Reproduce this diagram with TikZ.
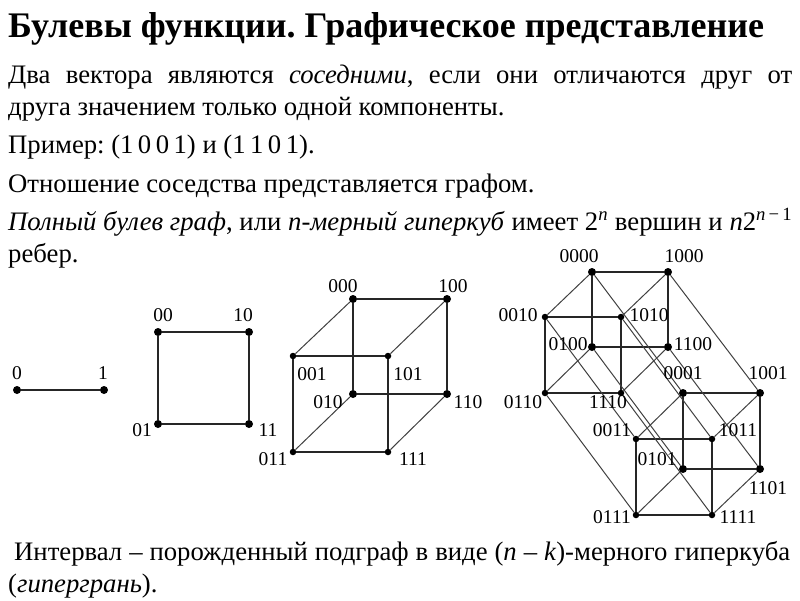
\documentclass[tikz,border=0pt]{standalone}
\usepackage{fontspec}
\setmainfont{Liberation Serif}
\frenchspacing
\tikzset{
	txt/.style={anchor=base west,inner sep=0pt,font=\fontsize{26.7}{30}\selectfont},
	ttl/.style={anchor=base west,inner sep=0pt,font=\fontsize{36}{38}\selectfont\bfseries},
	lab/.style={inner sep=0pt,font=\fontsize{19.5}{21}\selectfont},
	dot/.style={circle,fill=black,inner sep=0pt,minimum size=8pt},
	sdot/.style={circle,fill=black,inner sep=0pt,minimum size=6.5pt},
	edg/.style={line width=1.4pt,black!85},
	dia/.style={line width=1pt,black!75}
}
\begin{document}
\begin{tikzpicture}[x=1pt,y=-1pt]
	
	\useasboundingbox (0,0) rectangle (800,600);
	
	% title and text
	\node[ttl] (title) at (8,37) {Булевы функции. Графическое представление};
	\node[txt] (line1) at (8,83) {\makebox[784pt][s]{Два вектора являются \textit{соседними}, если они отличаются друг от}};
	\node[txt] (line2) at (8,115) {друга значением только одной компоненты.};
	\node[txt] (line3) at (8,153) {Пример: (1\,0\,0\,1) и (1\,1\,0\,1).};
	\node[txt] (line4) at (8,192) {Отношение соседства представляется графом.};
	\node[txt] (line5) at (8,230) {\makebox[784pt][s]{\textit{Полный булев граф}, или \textit{n-мерный гиперкуб} имеет 2\textsuperscript{\textit{n}} вершин и \textit{n}2\textsuperscript{\textit{n}\,−\,1}}};
	\node[txt] (line6) at (8,262) {ребер.};
	\node[txt] (line7) at (14,560) {\makebox[776pt][s]{Интервал – порожденный подграф в виде (\textit{n} – \textit{k})-мерного гиперкуба}};
	\node[txt] (line8) at (8,592) {(\textit{гипергрань}).};
	
	% segment
	\node[dot] (a0) at (17,390) {};
	\node[dot] (a1) at (104,390) {};
	\draw[edg] (a0) -- (a1);
	\node[lab] (la0) at (17,373) {0};
	\node[lab] (la1) at (103,373) {1};
	
	% square
	\node[dot] (b00) at (158,332) {};
	\node[dot] (b10) at (249,332) {};
	\node[dot] (b01) at (158,424) {};
	\node[dot] (b11) at (249,424) {};
	\draw[edg] (b00) -- (b10);
	\draw[edg] (b10) -- (b11);
	\draw[edg] (b11) -- (b01);
	\draw[edg] (b01) -- (b00);
	\node[lab] (lb00) at (163,315) {00};
	\node[lab] (lb10) at (243,315) {10};
	\node[lab] (lb01) at (142,430) {01};
	\node[lab] (lb11) at (268,430) {11};
	
	% cube
	\node[dot] (c000) at (353,299) {};
	\node[dot] (c100) at (447,299) {};
	\node[sdot] (c001) at (293,356) {};
	\node[sdot] (c101) at (388,356) {};
	\node[dot] (c010) at (353,394) {};
	\node[dot] (c110) at (447,394) {};
	\node[sdot] (c011) at (293,452) {};
	\node[sdot] (c111) at (388,452) {};
	\draw[edg] (c000) -- (c100);
	\draw[edg] (c000) -- (c010);
	\draw[edg] (c100) -- (c110);
	\draw[edg] (c010) -- (c110);
	\draw[edg] (c001) -- (c101);
	\draw[edg] (c001) -- (c011);
	\draw[edg] (c101) -- (c111);
	\draw[edg] (c011) -- (c111);
	\draw[dia] (c000) -- (c001);
	\draw[dia] (c100) -- (c101);
	\draw[dia] (c010) -- (c011);
	\draw[dia] (c110) -- (c111);
	\node[lab] (lc000) at (343,286) {000};
	\node[lab] (lc100) at (453,286) {100};
	\node[lab] (lc001) at (312,374) {001};
	\node[lab] (lc101) at (408,374) {101};
	\node[lab] (lc010) at (328,402) {010};
	\node[lab] (lc110) at (468,402) {110};
	\node[lab] (lc011) at (273,459) {011};
	\node[lab] (lc111) at (413,459) {111};
	
	% hypercube
	\node[dot] (d0000) at (592,272) {};
	\node[dot] (d1000) at (668,272) {};
	\node[sdot] (d0010) at (545,317) {};
	\node[sdot] (d1010) at (621,317) {};
	\node[dot] (d0100) at (592,347) {};
	\node[dot] (d1100) at (668,347) {};
	\node[sdot] (d0110) at (545,393) {};
	\node[sdot] (d1110) at (621,393) {};
	\node[dot] (d0001) at (683,393) {};
	\node[dot] (d1001) at (760,393) {};
	\node[sdot] (d0011) at (636,439) {};
	\node[sdot] (d1011) at (712,439) {};
	\node[dot] (d0101) at (683,469) {};
	\node[dot] (d1101) at (760,469) {};
	\node[sdot] (d0111) at (636,515) {};
	\node[sdot] (d1111) at (712,515) {};
	
	% first cube of the hypercube
	\draw[edg] (d0000) -- (d1000);
	\draw[edg] (d0000) -- (d0100);
	\draw[edg] (d1000) -- (d1100);
	\draw[edg] (d0100) -- (d1100);
	\draw[edg] (d0010) -- (d1010);
	\draw[edg] (d0010) -- (d0110);
	\draw[edg] (d1010) -- (d1110);
	\draw[edg] (d0110) -- (d1110);
	\draw[dia] (d0000) -- (d0010);
	\draw[dia] (d1000) -- (d1010);
	\draw[dia] (d0100) -- (d0110);
	\draw[dia] (d1100) -- (d1110);
	
	% second cube of the hypercube
	\draw[edg] (d0001) -- (d1001);
	\draw[edg] (d0001) -- (d0101);
	\draw[edg] (d1001) -- (d1101);
	\draw[edg] (d0101) -- (d1101);
	\draw[edg] (d0011) -- (d1011);
	\draw[edg] (d0011) -- (d0111);
	\draw[edg] (d1011) -- (d1111);
	\draw[edg] (d0111) -- (d1111);
	\draw[dia] (d0001) -- (d0011);
	\draw[dia] (d1001) -- (d1011);
	\draw[dia] (d0101) -- (d0111);
	\draw[dia] (d1101) -- (d1111);
	
	% long edges between the two cubes
	\draw[dia] (d0000) -- (d0001);
	\draw[dia] (d1000) -- (d1001);
	\draw[dia] (d0010) -- (d0011);
	\draw[dia] (d1010) -- (d1011);
	\draw[dia] (d0100) -- (d0101);
	\draw[dia] (d1100) -- (d1101);
	\draw[dia] (d0110) -- (d0111);
	\draw[dia] (d1110) -- (d1111);
	
	% hypercube labels
	\node[lab] (ld0000) at (579,256) {0000};
	\node[lab] (ld1000) at (684,256) {1000};
	\node[lab] (ld0010) at (518,315) {0010};
	\node[lab] (ld1010) at (649,315) {1010};
	\node[lab] (ld0100) at (568,344) {0100};
	\node[lab] (ld1100) at (693,344) {1100};
	\node[lab] (ld0110) at (523,402) {0110};
	\node[lab] (ld1110) at (608,402) {1110};
	\node[lab] (ld0001) at (683,373) {0001};
	\node[lab] (ld1001) at (768,373) {1001};
	\node[lab] (ld0011) at (612,430) {0011};
	\node[lab] (ld1011) at (738,430) {1011};
	\node[lab] (ld0101) at (657,459) {0101};
	\node[lab] (ld1101) at (768,488) {1101};
	\node[lab] (ld0111) at (612,517) {0111};
	\node[lab] (ld1111) at (738,517) {1111};
	
\end{tikzpicture}
\end{document}
